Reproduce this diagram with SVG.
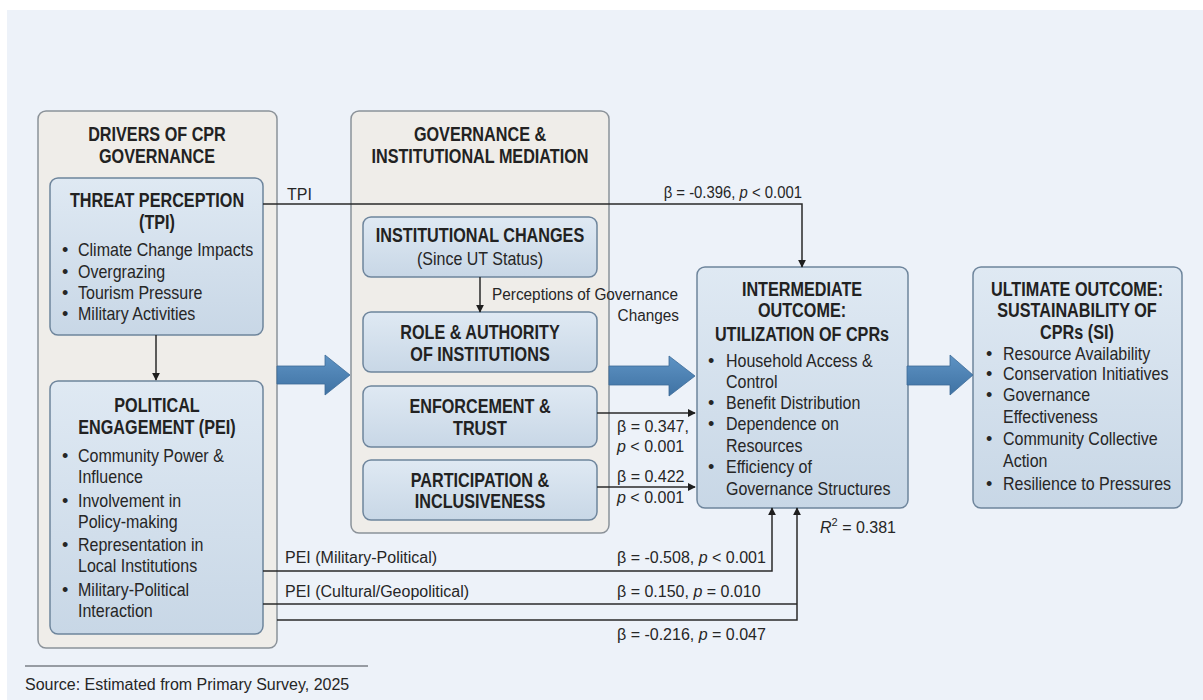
<svg xmlns="http://www.w3.org/2000/svg" width="1203" height="700" viewBox="0 0 1203 700">
<style>
text{font-family:"Liberation Sans",Arial,sans-serif}
.h{font-weight:bold;font-size:20px;fill:#222;text-anchor:middle}
.b{font-size:18px;fill:#262626}
.l{font-size:16px;fill:#262626}
.outer{fill:#efede9;stroke:#8b9299;stroke-width:1.5}
.inner{fill:url(#gIn);stroke:#6e859c;stroke-width:1.5}
.c{fill:none;stroke:#2a2a2a;stroke-width:1.5}
.big{fill:url(#gBig);stroke:#3c6b98;stroke-width:0.8}
</style>
<defs>
<linearGradient id="gIn" x1="0" y1="0" x2="0" y2="1"><stop offset="0" stop-color="#dfe9f3"/><stop offset="1" stop-color="#c8d7e6"/></linearGradient>
<linearGradient id="gBig" x1="0" y1="0" x2="0" y2="1"><stop offset="0" stop-color="#5e93c4"/><stop offset="1" stop-color="#3f72a3"/></linearGradient>
<marker id="ah" viewBox="0 0 10 10" refX="9" refY="5" markerWidth="8" markerHeight="8" markerUnits="userSpaceOnUse" orient="auto"><path d="M0,0 L10,5 L0,10 z" fill="#1e1e1e"/></marker>
</defs>
<rect x="0" y="0" width="1203" height="700" fill="#ffffff"/>
<rect x="7" y="10" width="1196" height="690" fill="#edf2f9"/>

<g id="drivers">
<rect class="outer" x="38" y="111" width="239" height="537" rx="8"/>
<text class="h" transform="translate(157 141) scale(.81 1)">DRIVERS OF CPR</text>
<text class="h" transform="translate(157 163) scale(.81 1)">GOVERNANCE</text>
</g>

<g id="tpi">
<rect class="inner" x="50" y="178" width="213" height="157" rx="8"/>
<text class="h" transform="translate(157 207) scale(.81 1)">THREAT PERCEPTION</text>
<text class="h" transform="translate(157 229) scale(.81 1)">(TPI)</text>
<text class="b" x="62" y="256">•</text><text class="b" transform="translate(78 256) scale(.89 1)">Climate Change Impacts</text>
<text class="b" x="62" y="278">•</text><text class="b" transform="translate(78 278) scale(.89 1)">Overgrazing</text>
<text class="b" x="62" y="299">•</text><text class="b" transform="translate(78 299) scale(.89 1)">Tourism Pressure</text>
<text class="b" x="62" y="320">•</text><text class="b" transform="translate(78 320) scale(.89 1)">Military Activities</text>
</g>

<g id="pei">
<rect class="inner" x="50" y="381" width="213" height="253" rx="8"/>
<text class="h" transform="translate(157 412) scale(.81 1)">POLITICAL</text>
<text class="h" transform="translate(157 434) scale(.81 1)">ENGAGEMENT (PEI)</text>
<text class="b" x="62" y="462">•</text><text class="b" transform="translate(78 462) scale(.89 1)">Community Power &amp;</text>
<text class="b" transform="translate(78 483) scale(.89 1)">Influence</text>
<text class="b" x="62" y="507">•</text><text class="b" transform="translate(78 507) scale(.89 1)">Involvement in</text>
<text class="b" transform="translate(78 528) scale(.89 1)">Policy-making</text>
<text class="b" x="62" y="551">•</text><text class="b" transform="translate(78 551) scale(.89 1)">Representation in</text>
<text class="b" transform="translate(78 572) scale(.89 1)">Local Institutions</text>
<text class="b" x="62" y="596">•</text><text class="b" transform="translate(78 596) scale(.89 1)">Military-Political</text>
<text class="b" transform="translate(78 617) scale(.89 1)">Interaction</text>
</g>

<g id="governance">
<rect class="outer" x="351" y="111" width="258" height="422" rx="8"/>
<text class="h" transform="translate(480 141) scale(.81 1)">GOVERNANCE &amp;</text>
<text class="h" transform="translate(480 163) scale(.81 1)">INSTITUTIONAL MEDIATION</text>
</g>

<g id="institutional-changes">
<rect class="inner" x="363" y="217" width="234" height="60" rx="8"/>
<text class="h" transform="translate(480 242) scale(.81 1)">INSTITUTIONAL CHANGES</text>
<text class="b" text-anchor="middle" transform="translate(480 265) scale(.89 1)">(Since UT Status)</text>
</g>

<g id="role-authority">
<rect class="inner" x="363" y="312" width="234" height="60" rx="8"/>
<text class="h" transform="translate(480 339) scale(.81 1)">ROLE &amp; AUTHORITY</text>
<text class="h" transform="translate(480 361) scale(.81 1)">OF INSTITUTIONS</text>
</g>

<g id="enforcement">
<rect class="inner" x="363" y="386" width="234" height="61" rx="8"/>
<text class="h" transform="translate(480 413) scale(.81 1)">ENFORCEMENT &amp;</text>
<text class="h" transform="translate(480 435) scale(.81 1)">TRUST</text>
</g>

<g id="participation">
<rect class="inner" x="363" y="460" width="234" height="60" rx="8"/>
<text class="h" transform="translate(480 487) scale(.81 1)">PARTICIPATION &amp;</text>
<text class="h" transform="translate(480 508) scale(.81 1)">INCLUSIVENESS</text>
</g>

<g id="intermediate">
<rect class="inner" x="697" y="267" width="211" height="241" rx="8"/>
<text class="h" transform="translate(802 296) scale(.81 1)">INTERMEDIATE</text>
<text class="h" transform="translate(802 317) scale(.81 1)">OUTCOME:</text>
<text class="h" transform="translate(802 341) scale(.81 1)">UTILIZATION OF CPRs</text>
<text class="b" x="708" y="367">•</text><text class="b" transform="translate(726 367) scale(.89 1)">Household Access &amp;</text>
<text class="b" transform="translate(726 388) scale(.89 1)">Control</text>
<text class="b" x="708" y="409">•</text><text class="b" transform="translate(726 409) scale(.89 1)">Benefit Distribution</text>
<text class="b" x="708" y="430">•</text><text class="b" transform="translate(726 430) scale(.89 1)">Dependence on</text>
<text class="b" transform="translate(726 452) scale(.89 1)">Resources</text>
<text class="b" x="708" y="473">•</text><text class="b" transform="translate(726 473) scale(.89 1)">Efficiency of</text>
<text class="b" transform="translate(726 495) scale(.89 1)">Governance Structures</text>
</g>

<g id="ultimate">
<rect class="inner" x="973" y="267" width="209" height="241" rx="8"/>
<text class="h" transform="translate(1077 296) scale(.81 1)">ULTIMATE OUTCOME:</text>
<text class="h" transform="translate(1077 317) scale(.81 1)">SUSTAINABILITY OF</text>
<text class="h" transform="translate(1077 339) scale(.81 1)">CPRs (SI)</text>
<text class="b" x="986" y="360">•</text><text class="b" transform="translate(1003 360) scale(.89 1)">Resource Availability</text>
<text class="b" x="986" y="380">•</text><text class="b" transform="translate(1003 380) scale(.89 1)">Conservation Initiatives</text>
<text class="b" x="986" y="401">•</text><text class="b" transform="translate(1003 401) scale(.89 1)">Governance</text>
<text class="b" transform="translate(1003 423) scale(.89 1)">Effectiveness</text>
<text class="b" x="986" y="445">•</text><text class="b" transform="translate(1003 445) scale(.89 1)">Community Collective</text>
<text class="b" transform="translate(1003 467) scale(.89 1)">Action</text>
<text class="b" x="986" y="490">•</text><text class="b" transform="translate(1003 490) scale(.89 1)">Resilience to Pressures</text>
</g>

<g id="connectors">
<path class="big" d="M277,366 H325 V355 L350,375 L325,395 V384 H277 Z"/>
<path class="big" d="M609,366 H669 V356 L695,376 L669,396 V385 H609 Z"/>
<path class="big" d="M907,366 H950 V355 L973,375 L950,395 V385 H907 Z"/>
<path class="c" d="M156,335 V380" marker-end="url(#ah)"/>
<path class="c" d="M263,204 H802 V267" marker-end="url(#ah)"/>
<path class="c" d="M480,277 V312" marker-end="url(#ah)"/>
<path class="c" d="M597,413 H695" marker-end="url(#ah)"/>
<path class="c" d="M597,487 H695" marker-end="url(#ah)"/>
<path class="c" d="M263,571 H772 V508" marker-end="url(#ah)"/>
<path class="c" d="M263,604 H797"/>
<path class="c" d="M277,620 H797 V508" marker-end="url(#ah)"/>
<text class="l" x="287" y="200">TPI</text>
<text class="l" text-anchor="end" transform="translate(802 198) scale(.93 1)">β = -0.396, <tspan font-style="italic">p</tspan> &lt; 0.001</text>
<text class="l" transform="translate(492 300) scale(.96 1)">Perceptions of Governance</text>
<text class="l" text-anchor="end" transform="translate(679 321) scale(.96 1)">Changes</text>
<text class="l" x="617" y="432">β = 0.347,</text>
<text class="l" x="617" y="452"><tspan font-style="italic">p</tspan> &lt; 0.001</text>
<text class="l" x="617" y="482">β = 0.422</text>
<text class="l" x="617" y="503"><tspan font-style="italic">p</tspan> &lt; 0.001</text>
<text class="l" x="285" y="563">PEI (Military-Political)</text>
<text class="l" x="617" y="563">β = -0.508, <tspan font-style="italic">p</tspan> &lt; 0.001</text>
<text class="l" x="285" y="597">PEI (Cultural/Geopolitical)</text>
<text class="l" x="617" y="597">β = 0.150, <tspan font-style="italic">p</tspan> = 0.010</text>
<text class="l" x="617" y="640">β = -0.216, <tspan font-style="italic">p</tspan> = 0.047</text>
<text class="l" x="820" y="533" font-size="18"><tspan font-style="italic">R</tspan><tspan dy="-7" font-size="11">2</tspan><tspan dy="7"> = 0.381</tspan></text>
</g>

<g id="source">
<line x1="25" y1="666" x2="368" y2="666" stroke="#7a7f86" stroke-width="1.5"/>
<text class="l" x="25" y="690" font-size="18">Source: Estimated from Primary Survey, 2025</text>
</g>
</svg>
